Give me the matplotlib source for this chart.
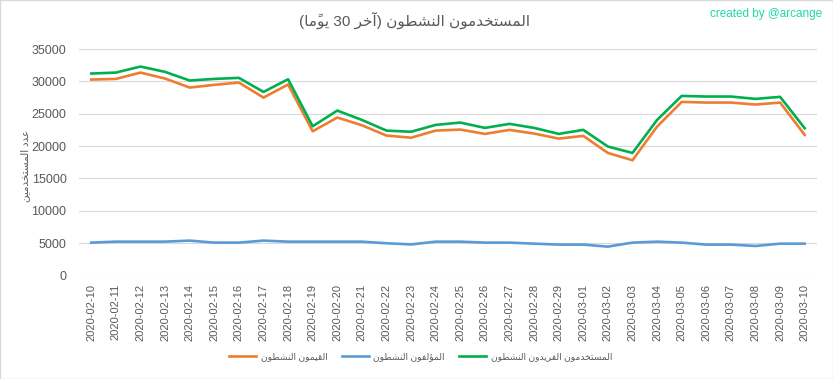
import re

import matplotlib
matplotlib.use("Agg")
import matplotlib.pyplot as plt

# ---- data ----
dates = ["2020-02-10", "2020-02-11", "2020-02-12", "2020-02-13", "2020-02-14", "2020-02-15",
         "2020-02-16", "2020-02-17", "2020-02-18", "2020-02-19", "2020-02-20", "2020-02-21",
         "2020-02-22", "2020-02-23", "2020-02-24", "2020-02-25", "2020-02-26", "2020-02-27",
         "2020-02-28", "2020-02-29", "2020-03-01", "2020-03-02", "2020-03-03", "2020-03-04",
         "2020-03-05", "2020-03-06", "2020-03-07", "2020-03-08", "2020-03-09", "2020-03-10"]
curators = [30300, 30400, 31380, 30460, 29060, 29480, 29840, 27510, 29530, 22300,
            24420, 23230, 21630, 21300, 22400, 22560, 21890, 22510, 21940, 21160,
            21580, 18940, 17810, 23020, 26840, 26740, 26740, 26430, 26740, 21730]
authors = [5060, 5210, 5210, 5210, 5370, 5060, 5060, 5370, 5210, 5210,
           5210, 5210, 4960, 4780, 5210, 5210, 5060, 5060, 4900, 4750,
           4750, 4440, 5060, 5210, 5060, 4750, 4750, 4540, 4900, 4900]
unique = [31230, 31380, 32310, 31490, 30150, 30400, 30560, 28390, 30350, 23070,
          25500, 24050, 22400, 22220, 23280, 23640, 22820, 23440, 22820, 21890,
          22510, 19930, 18940, 24050, 27770, 27670, 27670, 27310, 27620, 22770]

TITLE = "المستخدمون النشطون (آخر 30 يومًا)"
YLABEL = "عدد المستخدمين"
LABELS = ["القيمون النشطون", "المؤلفون النشطون", "المستخدمون الفريدون النشطون"]

# ---- minimal Arabic shaping (matplotlib has no complex text layout) ----
# letter: (isolated, final, initial, medial); None = does not join to the next letter
FORMS = {
    "ا": ("\uFE8D", "\uFE8E", None, None),
    "آ": ("\uFE81", "\uFE82", None, None),
    "ؤ": ("\uFE85", "\uFE86", None, None),
    "ت": ("\uFE95", "\uFE96", "\uFE97", "\uFE98"),
    "خ": ("\uFEA5", "\uFEA6", "\uFEA7", "\uFEA8"),
    "د": ("\uFEA9", "\uFEAA", None, None),
    "ر": ("\uFEAD", "\uFEAE", None, None),
    "س": ("\uFEB1", "\uFEB2", "\uFEB3", "\uFEB4"),
    "ش": ("\uFEB5", "\uFEB6", "\uFEB7", "\uFEB8"),
    "ط": ("\uFEC1", "\uFEC2", "\uFEC3", "\uFEC4"),
    "ع": ("\uFEC9", "\uFECA", "\uFECB", "\uFECC"),
    "ف": ("\uFED1", "\uFED2", "\uFED3", "\uFED4"),
    "ق": ("\uFED5", "\uFED6", "\uFED7", "\uFED8"),
    "ل": ("\uFEDD", "\uFEDE", "\uFEDF", "\uFEE0"),
    "م": ("\uFEE1", "\uFEE2", "\uFEE3", "\uFEE4"),
    "ن": ("\uFEE5", "\uFEE6", "\uFEE7", "\uFEE8"),
    "و": ("\uFEED", "\uFEEE", None, None),
    "ي": ("\uFEF1", "\uFEF2", "\uFEF3", "\uFEF4"),
}
MARKS = "\u064B\u064C\u064D\u064E\u064F\u0650\u0651\u0652"


def shape(text):
    letters = [i for i, c in enumerate(text) if c not in MARKS]
    out = list(text)
    for k, i in enumerate(letters):
        c = text[i]
        if c not in FORMS:
            continue
        prev = text[letters[k - 1]] if k > 0 else None
        nxt = text[letters[k + 1]] if k + 1 < len(letters) else None
        before = prev in FORMS and FORMS[prev][2] is not None
        after = nxt in FORMS and FORMS[c][2] is not None
        iso, fin, ini, med = FORMS[c]
        out[i] = med if before and after else fin if before else ini if after else iso
    return "".join(out)


def ar(text):
    s = shape(text)[::-1]
    s = re.sub(r"[0-9]+", lambda m: m.group(0)[::-1], s)
    s = s.translate(str.maketrans("()", ")("))
    s = re.sub("([" + MARKS + "])(.)", r"\2\1", s)
    return s


plt.rcParams["font.family"] = ["Liberation Sans", "DejaVu Sans"]
GRAY = "#595959"
BLUE, ORANGE, GREEN = "#5B9BD5", "#ED7D31", "#00B050"

fig = plt.figure(figsize=(8.33, 3.79), dpi=100)
ax = fig.add_axes([0.0948, 0.2736, 0.886, 0.5966])

x = range(len(dates))
l_or, = ax.plot(x, curators, color=ORANGE, lw=1.9, label=ar(LABELS[0]))
l_bl, = ax.plot(x, authors, color=BLUE, lw=1.9, label=ar(LABELS[1]))
l_gr, = ax.plot(x, unique, color=GREEN, lw=1.9, label=ar(LABELS[2]))

ax.set_xlim(-0.5, len(dates) - 0.5)
ax.set_ylim(0, 35000)
ax.set_yticks(range(0, 35001, 5000))
ax.set_xticks(list(x))
ax.set_xticklabels(dates, rotation=90, fontsize=8)
ax.tick_params(axis="both", length=0, colors=GRAY, labelsize=9)
ax.tick_params(axis="y", pad=9)
ax.tick_params(axis="x", pad=6, labelsize=8)
ax.grid(axis="y", color="#D9D9D9", lw=0.8)
ax.set_axisbelow(True)
for sp in ax.spines.values():
    sp.set_visible(False)

fig.text(0.030, 0.562, ar(YLABEL), rotation=90, ha="center", va="center",
         fontsize=7.5, color=GRAY)

fig.text(0.497, 0.947, ar(TITLE), ha="center", va="center", fontsize=11, color="#595959")
fig.text(0.987, 0.962, "created by @arcange", ha="right", va="center", fontsize=8.5,
         color="#1FD9A6")

fig.legend(handles=[l_or, l_bl, l_gr], loc="center", bbox_to_anchor=(0.505, 0.058), ncol=3,
           frameon=False, fontsize=6.6, handlelength=2.9, handletextpad=0.5,
           columnspacing=1.6, labelcolor=GRAY)

fig.patches.append(plt.Rectangle((0.0006, 0.0013), 0.9988, 0.9974, transform=fig.transFigure,
                                 fill=False, ec="#D9D9D9", lw=1))

fig.savefig("out.png", dpi=100)
